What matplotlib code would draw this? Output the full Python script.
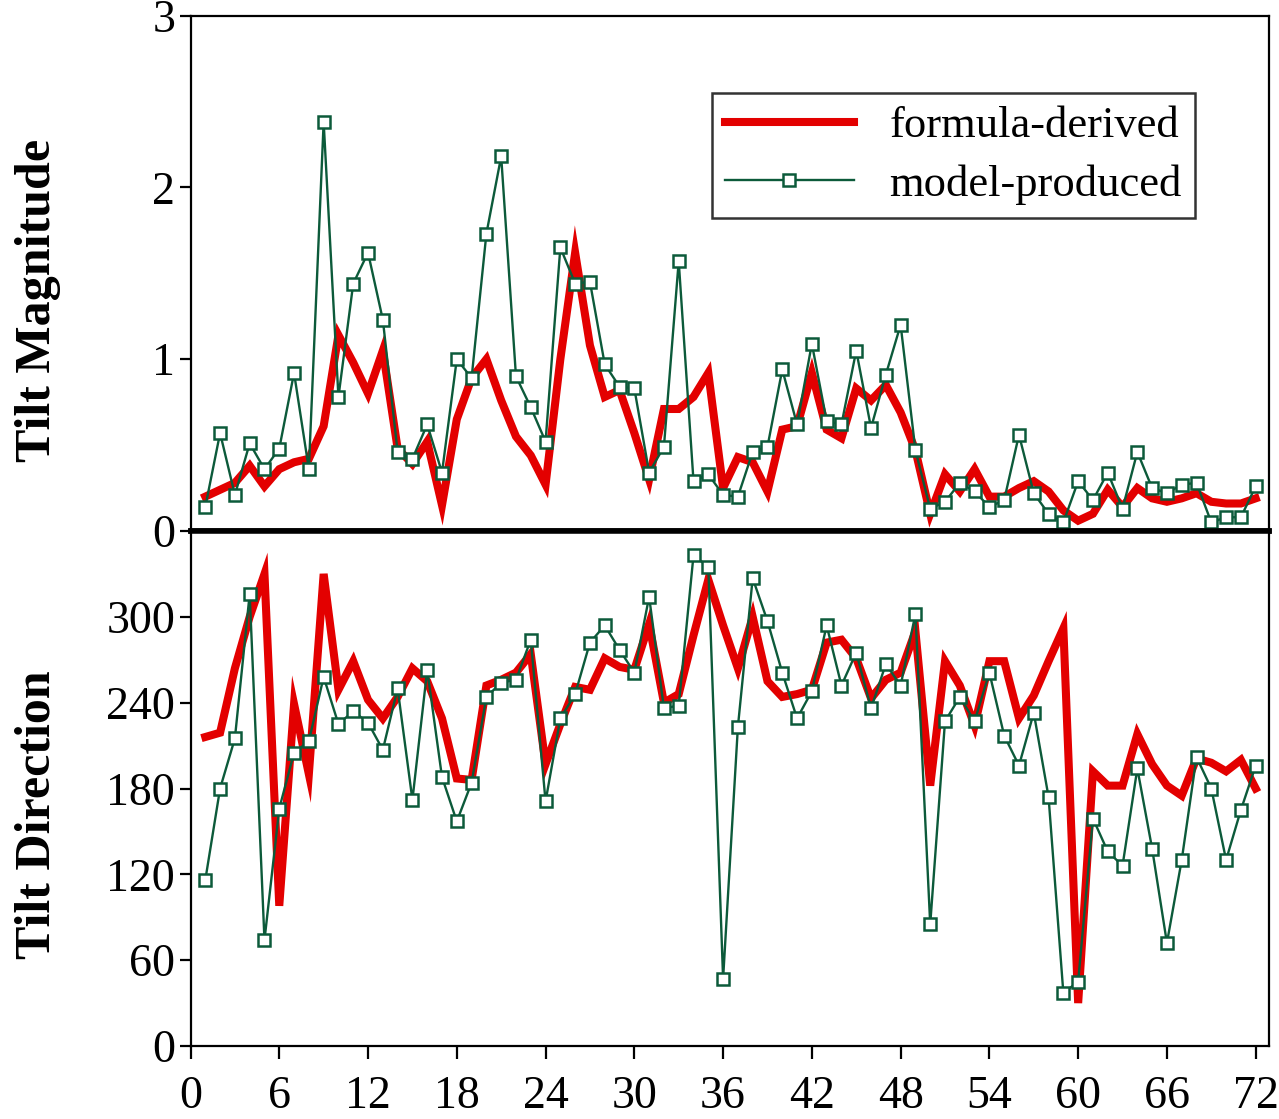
import matplotlib
matplotlib.use("Agg")
import matplotlib.pyplot as plt
from matplotlib.lines import Line2D

plt.rcParams['font.family'] = ['Liberation Serif', 'DejaVu Serif']

# ---------------- data ----------------
sample_idx = list(range(1, 73))

formula_magnitude = [
    0.20, 0.24, 0.28, 0.38, 0.26, 0.36, 0.40, 0.42, 0.61, 1.14,
    0.98, 0.80, 1.05, 0.48, 0.39, 0.52, 0.15, 0.65, 0.89, 1.00,
    0.76, 0.55, 0.44, 0.27, 1.00, 1.62, 1.08, 0.78, 0.82, 0.57,
    0.30, 0.71, 0.71, 0.78, 0.92, 0.25, 0.43, 0.40, 0.23, 0.59,
    0.61, 0.92, 0.59, 0.54, 0.83, 0.76, 0.85, 0.69, 0.47, 0.10,
    0.33, 0.23, 0.36, 0.20, 0.20, 0.25, 0.29, 0.23, 0.12, 0.06,
    0.10, 0.24, 0.14, 0.25, 0.19, 0.17, 0.19, 0.22, 0.17, 0.16,
    0.16, 0.19,
]
model_magnitude = [
    0.14, 0.57, 0.21, 0.51, 0.36, 0.48, 0.92, 0.36, 2.38, 0.78,
    1.44, 1.62, 1.23, 0.46, 0.42, 0.62, 0.34, 1.00, 0.89, 1.73,
    2.18, 0.90, 0.72, 0.52, 1.65, 1.44, 1.45, 0.97, 0.84, 0.83,
    0.34, 0.49, 1.57, 0.29, 0.33, 0.21, 0.20, 0.46, 0.49, 0.94,
    0.62, 1.09, 0.64, 0.62, 1.05, 0.60, 0.91, 1.20, 0.47, 0.13,
    0.17, 0.28, 0.23, 0.14, 0.18, 0.56, 0.22, 0.10, 0.05, 0.29,
    0.18, 0.34, 0.13, 0.46, 0.25, 0.22, 0.27, 0.28, 0.05, 0.08,
    0.08, 0.26,
]
formula_direction = [
    216, 219, 264, 300, 330, 98, 239, 190, 330, 249,
    269, 242, 229, 244, 264, 255, 229, 187, 186, 252,
    256, 261, 274, 197, 225, 251, 249, 271, 265, 263,
    295, 240, 246, 287, 326, 294, 264, 300, 255, 244,
    246, 249, 282, 284, 271, 243, 256, 261, 290, 182,
    269, 252, 224, 269, 269, 229, 245, 269, 292, 30,
    192, 182, 182, 218, 197, 182, 175, 201, 198, 192,
    200, 180,
]
model_direction = [
    116, 180, 215, 316, 74, 166, 205, 213, 258, 225,
    234, 226, 207, 250, 172, 263, 188, 157, 184, 244,
    254, 256, 284, 171, 229, 246, 282, 294, 277, 261,
    314, 236, 238, 343, 335, 47, 223, 327, 297, 261,
    229, 248, 294, 252, 275, 236, 267, 252, 302, 85,
    227, 244, 227, 261, 217, 196, 233, 174, 37, 45,
    159, 136, 126, 194, 138, 72, 130, 202, 180, 130,
    165, 196,
]

x_ticks = [0, 6, 12, 18, 24, 30, 36, 42, 48, 54, 60, 66, 72]
mag_ticks = [0, 1, 2, 3]
dir_ticks = [0, 60, 120, 180, 240, 300]
series_labels = ["formula-derived", "model-produced"]
y_labels = ["Tilt Magnitude", "Tilt Direction"]

# ---------------- style ----------------
W, H = 1279, 1119
fig = plt.figure(figsize=(W / 100, H / 100), dpi=100)

RED = '#e30000'
GREEN = '#0c5a3a'
FS = 33

left_px, right_px = 190.5, 1269
top_px, mid_px, bot_px = 15.5, 531, 1046

def fig_rect(t, b):
    return [left_px / W, 1 - b / H, (right_px - left_px) / W, (b - t) / H]

ax1 = fig.add_axes(fig_rect(top_px, mid_px))
ax2 = fig.add_axes(fig_rect(mid_px, bot_px))

def draw(ax, red, green):
    ax.plot(sample_idx, red, color=RED, lw=5.8, solid_joinstyle='miter', zorder=2)
    ax.plot(sample_idx, green, color=GREEN, lw=1.7, marker='s', markersize=9,
            markerfacecolor='white', markeredgecolor=GREEN, markeredgewidth=1.8, zorder=3)

draw(ax1, formula_magnitude, model_magnitude)
draw(ax2, formula_direction, model_direction)

for ax in (ax1, ax2):
    ax.set_xlim(0, 72.9)
    for s in ax.spines.values():
        s.set_linewidth(1.6)
        s.set_color('black')
    ax.tick_params(axis='y', direction='out', length=8, width=1.6, labelsize=FS, pad=3)

ax1.set_ylim(0, 3)
ax1.set_yticks(mag_ticks)
ax1.set_xticks([])
ax1.spines['bottom'].set_linewidth(4.0)

ax2.set_ylim(0, 360)
ax2.set_yticks(dir_ticks)
ax2.spines['top'].set_linewidth(4.0)
ax2.set_xticks(x_ticks)
ax2.tick_params(axis='x', direction='out', length=9, width=1.6, labelsize=FS, pad=12)

fig.text(38 / W, 1 - 300 / H, y_labels[0], rotation=90, ha='center', va='center',
         fontsize=36, fontweight='bold')
fig.text(38 / W, 1 - 815 / H, y_labels[1], rotation=90, ha='center', va='center',
         fontsize=36, fontweight='bold')

handles = [
    Line2D([], [], color=RED, lw=5.8),
    Line2D([], [], color=GREEN, lw=1.7, marker='s', markersize=9,
           markerfacecolor='white', markeredgecolor=GREEN, markeredgewidth=1.8),
]
leg = ax1.legend(handles, series_labels, loc='upper right',
                 bbox_to_anchor=(1195 / W, 1 - 93 / H), bbox_transform=fig.transFigure,
                 fontsize=32, frameon=True, fancybox=False, borderaxespad=0,
                 handlelength=2.9, handletextpad=0.8, labelspacing=0.4,
                 borderpad=0.3, markerscale=1.0)
leg.get_frame().set_edgecolor('black')
leg.get_frame().set_linewidth(1.8)

fig.savefig('out.png', dpi=100)
